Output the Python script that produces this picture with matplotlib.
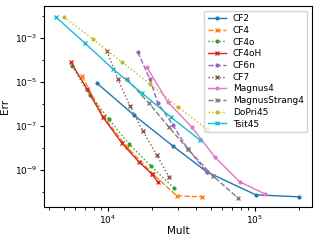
import numpy as np
import matplotlib
matplotlib.use("Agg")
import matplotlib.pyplot as plt
from matplotlib.ticker import NullFormatter, FixedLocator

# Work (multiplications) vs. error for each integrator
cf2_mult = [8420, 15030, 27680, 47150, 101600, 199100]
cf2_err = [8.7e-6, 3.1e-7, 1.23e-8, 8.2e-10, 7.5e-11, 6.1e-11]

cf4_mult = [6650, 9400, 13470, 20230, 29460, 43570]
cf4_err = [1.81e-5, 2.5e-7, 1.11e-8, 6.7e-10, 6.7e-11, 6.1e-11]

cf4o_mult = [5690, 7550, 10160, 13900, 19620, 28120]
cf4o_err = [5.1e-5, 2.5e-6, 2.05e-7, 1.52e-8, 1.53e-9, 1.55e-10]

cf4oh_mult = [5600, 7200, 9250, 12450, 16250, 19920, 21880]
cf4oh_err = [7.8e-5, 4.7e-6, 2.5e-7, 1.68e-8, 2.33e-9, 6.7e-10, 2.9e-10]

cf6n_mult = [16000, 19300, 21880, 27680, 35000, 47150]
cf6n_err = [2.21e-4, 1.32e-5, 1.09e-6, 1.1e-7, 9.0e-9, 8.2e-10]

cf7_mult = [9850, 11700, 14120, 17300, 21540, 26000]
cf7_err = [2.45e-4, 1.32e-5, 7.9e-7, 5.9e-8, 4.8e-9, 4.9e-10]

magnus4_mult = [18420, 25590, 37240, 53450, 79070, 116900]
magnus4_err = [4.6e-5, 1.21e-6, 8.9e-8, 3.9e-9, 2.9e-10, 8.3e-11]

strang4_mult = [13470, 19000, 26000, 35000, 51790, 76600]
strang4_err = [1.32e-5, 1.09e-6, 8.9e-8, 9.0e-9, 5.4e-10, 5.5e-11]

dopri_mult = [5020, 7910, 12450, 19300, 29920, 47150]
dopri_err = [8.5e-3, 8.6e-4, 7.8e-5, 7.9e-6, 7.2e-7, 7.2e-8]

tsit_mult = [4430, 6980, 10820, 17030, 26840, 42260]
tsit_err = [8.5e-3, 5.6e-4, 3.8e-5, 3.1e-6, 2.5e-7, 2.3e-8]

series = [
    ("CF2", cf2_mult, cf2_err, "-", "."),
    ("CF4", cf4_mult, cf4_err, "--", "x"),
    ("CF4o", cf4o_mult, cf4o_err, ":", "."),
    ("CF4oH", cf4oh_mult, cf4oh_err, "-", "x"),
    ("CF6n", cf6n_mult, cf6n_err, "--", "."),
    ("CF7", cf7_mult, cf7_err, ":", "x"),
    ("Magnus4", magnus4_mult, magnus4_err, "-", "."),
    ("MagnusStrang4", strang4_mult, strang4_err, "--", "x"),
    ("DoPri45", dopri_mult, dopri_err, ":", "."),
    ("Tsit45", tsit_mult, tsit_err, "-", "x"),
]

fig = plt.figure(figsize=(3.16, 2.41), dpi=100)
ax = fig.add_axes([0.139, 0.141, 0.848, 0.834])

for name, m, e, ls, mk in series:
    ms = 3.5 if mk == "x" else 4
    ax.plot(m, e, linestyle=ls, marker=mk, markersize=ms, linewidth=1, label=name)

ax.set_xscale("log")
ax.set_yscale("log")
ax.set_xlim(3670, 245000)
ax.set_ylim(2.1e-11, 2.7e-2)

# only every other decade labelled on y, like the original
ax.yaxis.set_major_locator(FixedLocator([1e-9, 1e-7, 1e-5, 1e-3]))
ax.yaxis.set_minor_locator(FixedLocator([1e-10, 1e-8, 1e-6, 1e-4, 1e-2]))
ax.yaxis.set_minor_formatter(NullFormatter())

ax.set_xlabel("Mult", fontsize=7.5, labelpad=0)
ax.set_ylabel("Err", fontsize=7.5, labelpad=3)
ax.tick_params(labelsize=6.5, pad=2)
ax.tick_params(which="major", length=3)
ax.tick_params(which="minor", length=1.8)
ax.legend(fontsize=6.5, loc="upper right", labelspacing=0.3, handlelength=2)

plt.savefig("out.png", dpi=100)
